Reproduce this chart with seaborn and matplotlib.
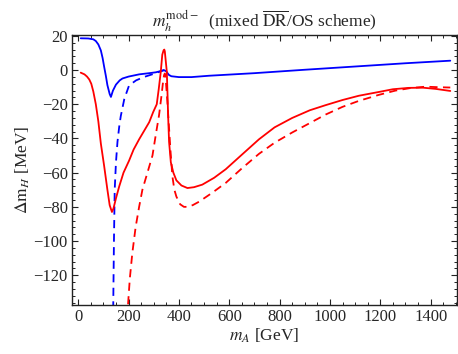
import numpy as np
import pandas as pd
import matplotlib
matplotlib.use('Agg')
import matplotlib.pyplot as plt
import seaborn as sns
from matplotlib.ticker import MultipleLocator

blue_solid_x = [10, 40, 60, 70, 80, 90, 97, 103, 110, 116, 125, 130, 138, 150, 165, 176, 200, 242,
                282, 308, 330, 341, 350, 360, 370, 400, 450, 520, 700, 900, 1100, 1300, 1478]
blue_solid_y = [18.6, 18.5, 18.0, 17.0, 15.0, 11.5, 7.0, 2.0, -3.5, -8.8, -14.0, -15.7, -12.0,
                -8.5, -6.0, -4.9, -3.8, -2.5, -1.8, -1.3, -0.5, 0.0, -0.8, -2.8, -3.6, -4.1, -4.1,
                -3.3, -1.8, 0.2, 2.1, 4.0, 5.5]

blue_dash_x = [139, 142, 145, 150, 156, 163, 169, 183, 202, 230, 262, 300, 330, 341]
blue_dash_y = [-140, -100, -70, -54, -42, -33, -27, -17, -9, -6, -4, -2.2, -0.6, 0.0]

red_solid_x = [10, 25, 35, 44, 52, 60, 70, 80, 90, 103, 116, 125, 134, 140, 150, 163, 180, 202, 220,
               242, 262, 282, 298, 312, 320, 328, 334, 339, 342, 344, 348, 352, 355, 357, 361, 368,
               378, 390, 410, 434, 460, 493, 540, 586, 650, 718, 780, 850, 920, 983, 1050, 1115,
               1194, 1250, 1313, 1370, 1420, 1478]
red_solid_y = [-1.5, -2.5, -3.8, -5.5, -8.0, -12.5, -20, -30, -43, -56, -70, -79, -83, -81, -75, -68,
               -60, -53, -46.5, -40.5, -35.5, -30.5, -24.5, -20, -11, -1, 9, 11.5, 12, 11, 5, -1,
               -15, -26, -42, -54, -60, -64.5, -67.5, -69, -68.5, -67, -63, -58, -49.5, -40.5,
               -33.5, -28, -23.5, -20.5, -17.5, -15, -12.8, -11.2, -10.4, -10.3, -11, -12.2]

red_dash_x = [198, 205, 215, 228, 242, 255, 275, 295, 308, 321, 330, 337, 341, 344, 347, 350, 354,
              360, 367, 374, 382, 390, 405, 420, 434, 455, 480, 530, 586, 650, 718, 780, 850, 920,
              983, 1050, 1115, 1194, 1260, 1320, 1380, 1430, 1478]
red_dash_y = [-137, -122, -107, -92, -80, -70, -60, -50, -38, -26.5, -16, -7, -3, -2, -4, -10, -18,
              -32, -48, -62, -70, -74, -78.5, -80, -80, -79, -77, -72, -66, -57.5, -49, -42.5,
              -36.5, -31, -26, -21.5, -18, -14.5, -12, -10.5, -9.7, -10, -10.2]

x_ticks = [0, 200, 400, 600, 800, 1000, 1200, 1400]
y_ticks = [-120, -100, -80, -60, -40, -20, 0, 20]

sns.set_style('ticks')
plt.rcParams['font.family'] = ['Liberation Serif', 'DejaVu Serif']
plt.rcParams['mathtext.fontset'] = 'stix'

fig = plt.figure(figsize=(4.58, 3.54), dpi=100)
ax = fig.add_axes([0.157, 0.138, 0.841, 0.763])

lw = 1.3
sns.lineplot(x=blue_solid_x, y=blue_solid_y, ax=ax, color='#0000ff', lw=lw, sort=False, estimator=None)
sns.lineplot(x=blue_dash_x, y=blue_dash_y, ax=ax, color='#0000ff', lw=lw, sort=False, estimator=None,
             linestyle=(0, (4.5, 3)))
sns.lineplot(x=red_solid_x, y=red_solid_y, ax=ax, color='#ff0000', lw=lw, sort=False, estimator=None)
sns.lineplot(x=red_dash_x, y=red_dash_y, ax=ax, color='#ff0000', lw=lw, sort=False, estimator=None,
             linestyle=(0, (4.5, 3)))

ax.set_xlim(-25, 1505)
ax.set_ylim(-137.5, 20.5)
ax.set_xticks(x_ticks)
ax.set_yticks(y_ticks)
ax.xaxis.set_minor_locator(MultipleLocator(50))
ax.yaxis.set_minor_locator(MultipleLocator(4))
ax.set_yticklabels([str(v).replace('-', '\u2212') for v in y_ticks])
ax.tick_params(which='both', direction='in', top=True, right=True, labelsize=12, color='#222222')
ax.tick_params(which='major', length=4, width=0.8, pad=3)
ax.tick_params(which='minor', length=2, width=0.7)
for s in ax.spines.values():
    s.set_linewidth(1.0)
    s.set_color('#222222')

ax.set_xlabel(r'$m_A$ [GeV]', fontsize=12.5, labelpad=1)
ax.set_ylabel(r'$\Delta\mathrm{m}_H$ [MeV]', fontsize=12.5, labelpad=1)
ax.set_title(r'$m_h^{\rm mod-}$  (mixed $\overline{\rm DR}$/OS scheme)', fontsize=12.5, pad=6)

fig.savefig('out.png', dpi=100)
